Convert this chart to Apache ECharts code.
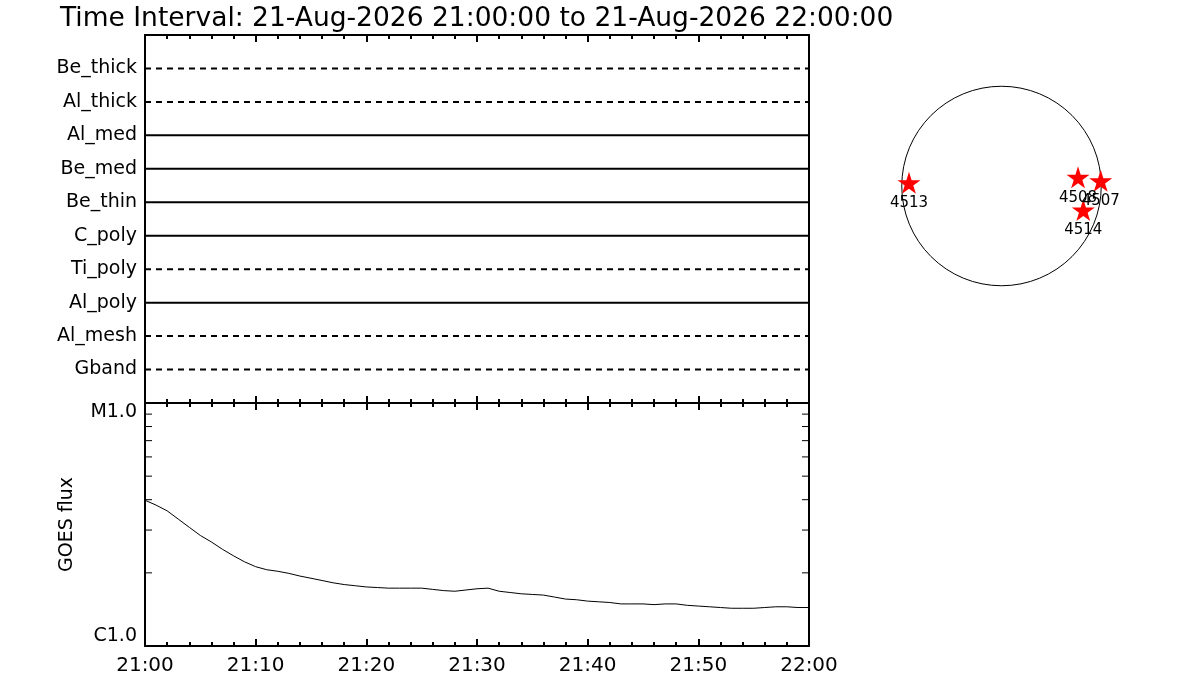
<!DOCTYPE html>
<html>
<head>
<meta charset="utf-8">
<title>GOES / filter timeline</title>
<script src="https://cdn.jsdelivr.net/npm/echarts@6/dist/echarts.min.js"></script>
<style>
  html, body { margin: 0; padding: 0; background: #fff; }
  #chart { width: 1200px; height: 700px; }
</style>
</head>
<body>
<div id="chart"></div>
<script>
// time range, minutes after 21:00
var timeStart = 0;
var timeEnd = 60;
var startHour = 21;

// filter rows, top to bottom
var filterNames = ['Be_thick', 'Al_thick', 'Al_med', 'Be_med', 'Be_thin', 'C_poly', 'Ti_poly', 'Al_poly', 'Al_mesh', 'Gband'];
var filterDashed = [true, true, false, false, false, false, true, false, true, true];

// GOES flux (units of 1e-6 W/m2)
var goesMinutes = [0, 1, 2, 3, 4, 5, 6, 7, 8, 9, 10, 11, 12, 13, 14, 15, 16, 17, 18, 19, 20,
  21, 22, 23, 24, 25, 26, 27, 28, 29, 30, 31, 32, 33, 34, 35, 36, 37, 38, 39, 40,
  41, 42, 43, 44, 45, 46, 47, 48, 49, 50, 51, 52, 53, 54, 55, 56, 57, 58, 59, 60];
var goesFlux = [3.98, 3.80, 3.60, 3.33, 3.08, 2.85, 2.68, 2.50, 2.35, 2.22, 2.12,
  2.06, 2.03, 1.99, 1.94, 1.90, 1.86, 1.82, 1.79, 1.77, 1.75,
  1.74, 1.73, 1.73, 1.73, 1.73, 1.71, 1.69, 1.68, 1.70, 1.72,
  1.73, 1.68, 1.66, 1.64, 1.63, 1.62, 1.59, 1.56, 1.55, 1.53,
  1.52, 1.51, 1.49, 1.49, 1.49, 1.48, 1.49, 1.49, 1.47, 1.46,
  1.45, 1.44, 1.43, 1.43, 1.43, 1.44, 1.45, 1.45, 1.44, 1.44];
var goesMinorTicks = [2, 3, 4, 5, 6, 7, 8, 9]; // x 1e-6
var goesClass = { '-6': 'C', '-5': 'M', '-4': 'X' };

// active regions on the disk (arcsec)
var solarRadius = 950;
var arNames = ['4513', '4508', '4507', '4514'];
var arX = [-881, 729, 945, 779];
var arY = [31, 83, 50, -229];

var font = 'DejaVu Sans';
var chart = echarts.init(document.getElementById('chart'));

function fmtTime(v) {
    var h = startHour + Math.floor(v / 60);
    var m = v % 60;
    return h + ':' + (m < 10 ? '0' : '') + m;
}

function timeAxis(grid, pos, labels) {
    return {
        type: 'value', gridIndex: grid, position: pos,
        min: timeStart, max: timeEnd, interval: 10,
        axisLine: { onZero: false, lineStyle: { color: '#000', width: 2 } },
        axisTick: { inside: true, length: 7, lineStyle: { color: '#000', width: 2 } },
        minorTick: { show: true, splitNumber: 5, length: 4, lineStyle: { color: '#000', width: 2 } },
        splitLine: { show: false },
        axisLabel: {
            show: labels, margin: 10, color: '#000', fontFamily: font, fontSize: 20,
            formatter: fmtTime
        }
    };
}

var filterSeries = filterNames.map(function (name, i) {
    var lvl = filterNames.length - i;
    return {
        name: name, type: 'line', xAxisIndex: 0, yAxisIndex: 0,
        showSymbol: false, silent: true,
        lineStyle: { color: '#000', width: 2, type: filterDashed[i] ? [6, 5] : 'solid' },
        data: [[timeStart, lvl], [timeEnd, lvl]]
    };
});

var option = {
    animation: false,
    backgroundColor: '#fff',
    title: {
        text: 'Time Interval: 21-Aug-2026 21:00:00 to 21-Aug-2026 22:00:00',
        left: 55, top: 1,
        textStyle: { color: '#000', fontFamily: font, fontSize: 26.5, fontWeight: 'normal' }
    },
    grid: [
        { left: 145, top: 35, width: 664, height: 368, outerBoundsMode: 'none' },
        { left: 145, top: 403, width: 664, height: 243, outerBoundsMode: 'none' },
        { left: 896.5, top: 81, width: 210, height: 210, outerBoundsMode: 'none' }
    ],
    xAxis: [
        timeAxis(0, 'bottom', false),
        timeAxis(0, 'top', false),
        timeAxis(1, 'bottom', true),
        timeAxis(1, 'top', false),
        { type: 'value', gridIndex: 2, min: -1000, max: 1000, show: false }
    ],
    yAxis: [
        {
            type: 'value', gridIndex: 0, position: 'left', min: 0, max: filterNames.length + 1, interval: 1,
            axisLine: { onZero: false, lineStyle: { color: '#000', width: 2 } },
            axisTick: { show: false }, splitLine: { show: false },
            axisLabel: {
                margin: 8, color: '#000', fontFamily: font, fontSize: 19,
                formatter: function (v) { return filterNames[filterNames.length - v] || ''; }
            }
        },
        {
            type: 'value', gridIndex: 0, position: 'right', min: 0, max: filterNames.length + 1,
            axisLine: { onZero: false, lineStyle: { color: '#000', width: 2 } },
            axisTick: { show: false }, axisLabel: { show: false }, splitLine: { show: false }
        },
        {
            type: 'log', logBase: 10, gridIndex: 1, position: 'left', min: 1e-6, max: 1e-5,
            name: 'GOES flux', nameLocation: 'middle', nameGap: 68,
            nameTextStyle: { color: '#000', fontFamily: font, fontSize: 19 },
            axisLine: { onZero: false, lineStyle: { color: '#000', width: 2 } },
            axisTick: { show: false }, splitLine: { show: false },
            axisLabel: {
                margin: 8, color: '#000', fontFamily: font, fontSize: 19,
                verticalAlignMaxLabel: 'top', verticalAlignMinLabel: 'bottom',
                formatter: function (v) {
                    var e = Math.floor(Math.log10(v) + 1e-9);
                    return (goesClass[e] || '') + (v / Math.pow(10, e)).toFixed(1);
                }
            }
        },
        {
            type: 'log', logBase: 10, gridIndex: 1, position: 'right', min: 1e-6, max: 1e-5,
            axisLine: { onZero: false, lineStyle: { color: '#000', width: 2 } },
            axisTick: { show: false }, axisLabel: { show: false }, splitLine: { show: false }
        },
        { type: 'value', gridIndex: 2, min: -1000, max: 1000, show: false }
    ],
    series: filterSeries.concat([
        {
            name: 'GOES', type: 'line', xAxisIndex: 2, yAxisIndex: 2,
            showSymbol: false, silent: true,
            lineStyle: { color: '#000', width: 1 },
            data: goesMinutes.map(function (m, i) { return [m, goesFlux[i] * 1e-6]; })
        },
        {
            name: 'goesTicks', type: 'custom', xAxisIndex: 2, yAxisIndex: 2, silent: true,
            data: goesMinorTicks.map(function (v) { return [timeStart, v * 1e-6]; }),
            renderItem: function (params, api) {
                var l = api.coord([timeStart, api.value(1)]);
                var r = api.coord([timeEnd, api.value(1)]);
                var st = { stroke: '#000', lineWidth: 1 };
                return {
                    type: 'group', children: [
                        { type: 'line', shape: { x1: l[0], y1: l[1], x2: l[0] + 7, y2: l[1] }, style: st },
                        { type: 'line', shape: { x1: r[0] - 7, y1: r[1], x2: r[0], y2: r[1] }, style: st }
                    ]
                };
            }
        },
        {
            name: 'disk', type: 'custom', xAxisIndex: 4, yAxisIndex: 4, silent: true,
            data: [[0, 0, solarRadius]],
            renderItem: function (params, api) {
                var c = api.coord([api.value(0), api.value(1)]);
                var s = api.size([api.value(2), api.value(2)]);
                return {
                    type: 'circle', shape: { cx: c[0], cy: c[1], r: s[0] },
                    style: { stroke: '#000', fill: 'none', lineWidth: 1 }
                };
            }
        },
        {
            name: 'regions', type: 'scatter', xAxisIndex: 4, yAxisIndex: 4, silent: true,
            symbol: 'path://M50,0 L61,35 L98,35 L68,57 L79,91 L50,70 L21,91 L32,57 L2,35 L39,35 Z',
            symbolSize: [23, 22],
            itemStyle: { color: '#ff0000', opacity: 1 },
            label: {
                show: true, position: 'bottom', distance: 2,
                color: '#000', opacity: 1, fontFamily: font, fontSize: 15,
                formatter: function (p) { return p.name; }
            },
            data: arNames.map(function (n, i) { return { name: n, value: [arX[i], arY[i]] }; })
        }
    ])
};

chart.setOption(option);
</script>
</body>
</html>
